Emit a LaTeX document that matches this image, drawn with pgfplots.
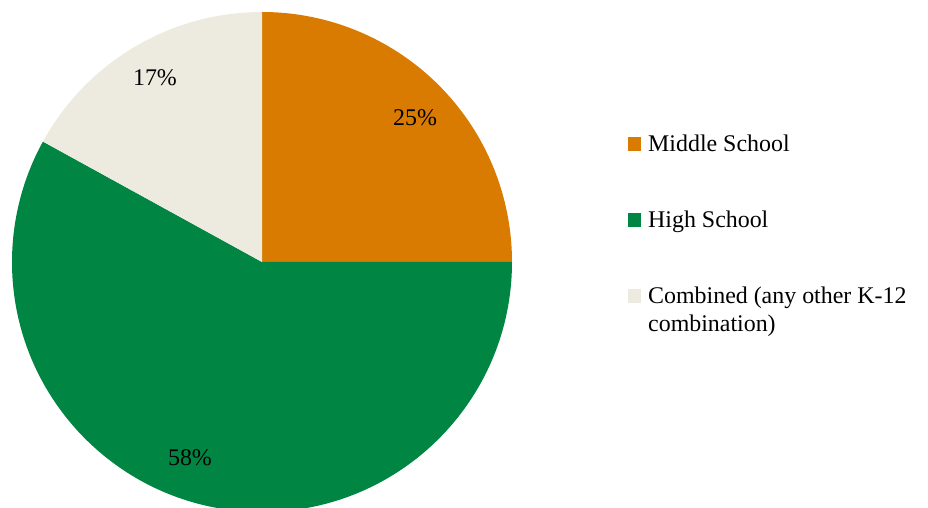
\documentclass[border=0pt]{standalone}
\usepackage{fontspec}
\setmainfont{Liberation Serif}
\usepackage{pgfplots}
\usepackage{pgfplotstable}
\pgfplotsset{compat=1.18}
\definecolor{cMS}{RGB}{217,123,0}
\definecolor{cHS}{RGB}{0,133,66}
\definecolor{cCO}{RGB}{237,235,224}
\pgfplotstableread[col sep=comma]{
name,value
Middle School,25
High School,58
Combined,17
}\piedata
\begin{document}
\begin{tikzpicture}
\pgfplotstablegetelem{0}{value}\of\piedata \xdef\va{\pgfplotsretval}
\pgfplotstablegetelem{1}{value}\of\piedata \xdef\vb{\pgfplotsretval}
\pgfplotstablegetelem{2}{value}\of\piedata \xdef\vc{\pgfplotsretval}
\pgfmathsetmacro{\aA}{90}
\pgfmathsetmacro{\aB}{90-3.6*\va}
\pgfmathsetmacro{\aC}{\aB-3.6*\vb}
\pgfmathsetmacro{\aD}{\aC-3.6*\vc}
\begin{axis}[
  name=ax,
  width=928bp, height=508bp, scale only axis,
  xmin=0, xmax=928, ymin=0, ymax=508,
  hide axis, clip=true,
  /pgf/number format/assume math mode=true,
  font=\fontsize{24}{28}\selectfont,
  legend style={at={(axis cs:625,376)}, anchor=north west, draw=none, fill=none,
    font=\fontsize{24}{28}\selectfont,
    nodes={inner sep=0pt, text height=17bp, text depth=5bp},
    row sep=54bp, legend cell align=left,
    /tikz/every odd column/.append style={column sep=7bp}},
  legend image code/.code={\fill[#1, draw=none] (0bp,-6bp) rectangle (13bp,8bp);},
]
\addlegendimage{fill=cMS, draw=none}
\addlegendentry{Middle School}
\addlegendimage{fill=cHS, draw=none}
\addlegendentry{High School}
\addlegendimage{fill=cCO, draw=none}
\addlegendentry{\begin{tabular}[t]{@{}l@{}}Combined (any other K-12\\combination)\end{tabular}}
\fill[cMS] (axis cs:262,246) -- ++(\aA:250bp) arc[start angle=\aA, end angle=\aB, radius=250bp] -- cycle;
\fill[cHS] (axis cs:262,246) -- ++(\aB:250bp) arc[start angle=\aB, end angle=\aC, radius=250bp] -- cycle;
\fill[cCO] (axis cs:262,246) -- ++(\aC:250bp) arc[start angle=\aC, end angle=\aD, radius=250bp] -- cycle;
\node at (axis cs:415,390) {\pgfmathprintnumber{\va}\%};
\node at (axis cs:190,50) {\pgfmathprintnumber{\vb}\%};
\node at (axis cs:155,430) {\pgfmathprintnumber{\vc}\%};
\end{axis}
\pgfresetboundingbox
\path[use as bounding box] (ax.south west) rectangle (ax.north east);
\end{tikzpicture}
\end{document}
